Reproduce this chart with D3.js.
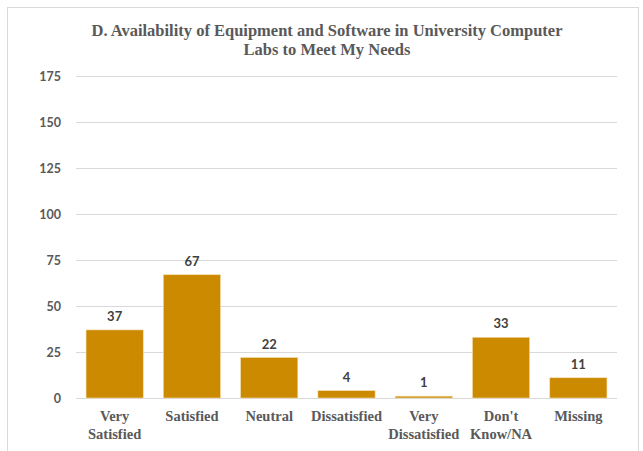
<!DOCTYPE html>
<html>
<head>
<meta charset="utf-8">
<script src="https://cdn.jsdelivr.net/npm/d3@7"></script>
<style>
  body { margin: 0; background: #fff; }
</style>
</head>
<body>
<div id="pane"></div>
<script>
// chart data
const categories = [["Very", "Satisfied"], ["Satisfied"], ["Neutral"], ["Dissatisfied"],
  ["Very", "Dissatisfied"], ["Don't", "Know/NA"], ["Missing"]];
const values = [37, 67, 22, 4, 1, 33, 11];
const yTicks = [0, 25, 50, 75, 100, 125, 150, 175];
const titleLines = ["D. Availability of Equipment and Software in University Computer",
  "Labs to Meet My Needs"];

const width = 643, height = 451;
const svg = d3.select("#pane").append("svg")
  .attr("width", width)
  .attr("height", height);

// outer chart frame
svg.append("rect")
  .attr("x", 7.5).attr("y", 7.5)
  .attr("width", 631).attr("height", 460)
  .attr("fill", "#fff")
  .attr("stroke", "#d9d9d9");

const plot = { left: 76, right: 617, top: 76, bottom: 398 };

const x = d3.scaleBand()
  .domain(d3.range(values.length))
  .range([plot.left, plot.right])
  .paddingInner(0.26)
  .paddingOuter(0.13);

const y = d3.scaleLinear()
  .domain([0, 175])
  .range([plot.bottom, plot.top]);

// gridlines
svg.append("g")
  .selectAll("line")
  .data(yTicks)
  .join("line")
  .attr("x1", plot.left).attr("x2", plot.right)
  .attr("y1", d => Math.round(y(d)) + 0.5)
  .attr("y2", d => Math.round(y(d)) + 0.5)
  .attr("stroke", "#d9d9d9");

// y axis labels
const yAxis = d3.axisLeft(y).tickValues(yTicks).tickSize(0).tickPadding(15);
svg.append("g")
  .attr("transform", `translate(${plot.left},0)`)
  .call(yAxis)
  .call(g => g.select(".domain").remove())
  .selectAll("text")
  .attr("font-family", "Lato, 'Open Sans', sans-serif")
  .attr("font-weight", "bold")
  .attr("font-size", 12.5)
  .attr("fill", "#595959");

// bars
svg.append("g")
  .selectAll("rect")
  .data(values)
  .join("rect")
  .attr("x", (d, i) => x(i))
  .attr("width", x.bandwidth())
  .attr("y", d => y(d))
  .attr("height", d => y(0) - y(d))
  .attr("fill", "#cc8a00")
  .attr("stroke", "#f2dcb0")
  .attr("stroke-width", 0.6);

// data labels
svg.append("g")
  .selectAll("text")
  .data(values)
  .join("text")
  .attr("x", (d, i) => x(i) + x.bandwidth() / 2)
  .attr("y", d => y(d) - 9)
  .attr("text-anchor", "middle")
  .attr("font-family", "Lato, 'Open Sans', sans-serif")
  .attr("font-weight", "bold")
  .attr("font-size", 13)
  .attr("fill", "#404040")
  .text(d => d);

// category labels
const xl = svg.append("g")
  .selectAll("text")
  .data(categories)
  .join("text")
  .attr("x", (d, i) => x(i) + x.bandwidth() / 2)
  .attr("y", 421)
  .attr("text-anchor", "middle")
  .attr("font-family", "'Liberation Serif', 'Times New Roman', serif")
  .attr("font-weight", "bold")
  .attr("font-size", 14.5)
  .attr("fill", "#595959");
xl.selectAll("tspan")
  .data(d => d)
  .join("tspan")
  .attr("x", function () { return d3.select(this.parentNode).attr("x"); })
  .attr("dy", (d, i) => i === 0 ? 0 : 18)
  .text(d => d);

// title
svg.append("text")
  .attr("x", 327)
  .attr("y", 36)
  .attr("text-anchor", "middle")
  .attr("font-family", "'Liberation Serif', 'Times New Roman', serif")
  .attr("font-weight", "bold")
  .attr("font-size", 16.5)
  .attr("fill", "#595959")
  .selectAll("tspan")
  .data(titleLines)
  .join("tspan")
  .attr("x", 327)
  .attr("dy", (d, i) => i === 0 ? 0 : 19)
  .text(d => d);
</script>
</body>
</html>
